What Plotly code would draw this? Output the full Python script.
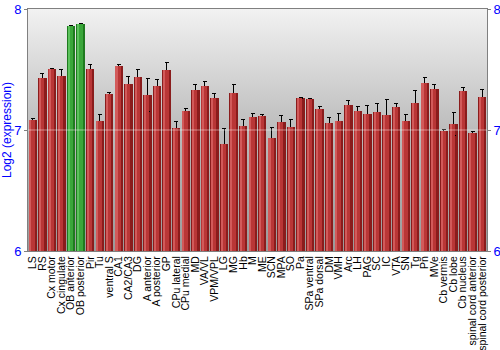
import base64
import plotly.graph_objects as go

categories = ["LS", "RS", "Cx motor", "Cx cingulate", "OB anterior", "OB posterior", "Pir", "Tu",
              "ventral S", "CA1", "CA2/CA3", "DG", "A anterior", "A posterior", "GP", "CPu lateral",
              "CPu medial", "MD", "VA/VL", "VPM/VPL", "LG", "MG", "Hb", "M", "ME", "SCN", "MPA", "SO",
              "Pa", "SPa ventral", "SPa dorsal", "DM", "VMH", "Arc", "LH", "PAG", "SC", "IC", "VTA",
              "SN", "Tg", "Pn", "MVe", "Cb vermis", "Cb lobe", "Cb nucleus",
              "spinal cord anterior", "spinal cord posterior"]
values = [7.083, 7.43, 7.507, 7.449, 7.862, 7.873, 7.505, 7.077,
          7.297, 7.529, 7.38, 7.438, 7.289, 7.366, 7.496, 7.017,
          7.157, 7.328, 7.366, 7.262, 6.884, 7.303, 7.033, 7.107, 7.116, 6.934, 7.069, 7.025,
          7.264, 7.254, 7.174, 7.055, 7.074, 7.209, 7.154, 7.132, 7.151, 7.124, 7.19,
          7.072, 7.223, 7.388, 7.336, 6.994, 7.052, 7.325,
          6.973, 7.275]
errors = [0.01, 0.04, 0.004, 0.054, 0.003, 0.005, 0.039, 0.05,
          0.014, 0.014, 0.06, 0.06, 0.14, 0.055, 0.058, 0.054,
          0.02, 0.044, 0.032, 0.039, 0.13, 0.074, 0.05, 0.026, 0.014, 0.09, 0.05, 0.06,
          0.004, 0.007, 0.02, 0.047, 0.066, 0.032, 0.041, 0.069, 0.066, 0.13, 0.032,
          0.055, 0.1, 0.048, 0.043, 0.007, 0.096, 0.028,
          0.017, 0.057]
highlighted = ["OB anterior", "OB posterior"]
y_ticks = [6, 7, 8]

is_hi = [c in highlighted for c in categories]
dark = ["#1f7a1f" if h else "#8a1c1c" for h in is_hi]
mid = ["#3aa63a" if h else "#b93636" for h in is_hi]
light = ["#5cc25c" if h else "#d25a5a" for h in is_hi]

fig = go.Figure()
fig.add_trace(go.Bar(x=categories, y=values, marker=dict(color=dark, line=dict(width=0)),
                     width=0.88, offset=-0.44,
                     error_y=dict(type="data", array=errors, color="black", thickness=1, width=2),
                     hoverinfo="skip"))
fig.add_trace(go.Bar(x=categories, y=values, marker=dict(color=mid, line=dict(width=0)),
                     width=0.56, offset=-0.36, hoverinfo="skip"))
fig.add_trace(go.Bar(x=categories, y=values, marker=dict(color=light, line=dict(width=0)),
                     width=0.16, offset=-0.3, hoverinfo="skip"))
# invisible trace for right axis
fig.add_trace(go.Scatter(x=[categories[0]], y=[None], yaxis="y2", showlegend=False, hoverinfo="skip"))

svg = ('<svg xmlns="http://www.w3.org/2000/svg" width="10" height="100" preserveAspectRatio="none">'
       '<defs><linearGradient id="g" x1="0" y1="0" x2="0" y2="1">'
       '<stop offset="0" stop-color="#f2f2f2"/><stop offset="0.5" stop-color="#bcbcbc"/>'
       '<stop offset="1" stop-color="#9a9a9a"/></linearGradient></defs>'
       '<rect width="10" height="100" fill="url(#g)"/></svg>')
uri = "data:image/svg+xml;base64," + base64.b64encode(svg.encode()).decode()

axis_font = dict(family="Liberation Sans, Arial", size=13, color="#0000ff")
fig.update_layout(
    width=500, height=350,
    margin=dict(l=28, r=13, t=9, b=99),
    barmode="overlay", bargap=0,
    showlegend=False,
    paper_bgcolor="white", plot_bgcolor="rgba(0,0,0,0)",
    images=[dict(source=uri, xref="paper", yref="paper", x=0, y=1, sizex=1, sizey=1,
                 sizing="stretch", layer="below", xanchor="left", yanchor="top")],
    xaxis=dict(tickangle=-90, tickfont=dict(family="Liberation Sans, Arial", size=10.5, color="black"),
               tickmode="array", tickvals=categories, ticktext=categories, automargin=False,
               showgrid=False, ticks="", showline=True, linecolor="#808080", mirror=True,
               range=[-0.5, len(categories) - 0.5]),
    yaxis=dict(range=[6, 8], tickvals=y_ticks, tickfont=axis_font, showgrid=False, zeroline=False,
               automargin=False,
               ticks="outside", ticklen=3, tickcolor="#808080", showline=True, linecolor="#808080",
               title=dict(text="Log2 (expression)", font=dict(family="Liberation Sans, Arial", size=12, color="#0000ff"),
                          standoff=0)),
    yaxis2=dict(range=[6, 8], tickvals=y_ticks, tickfont=axis_font, overlaying="y", side="right",
                automargin=False, ticklabelstandoff=0,
                showgrid=False, zeroline=False, ticks="outside", ticklen=3, tickcolor="#808080",
                showline=True, linecolor="#808080"),
    shapes=[dict(type="line", xref="paper", yref="y", x0=0, x1=1, y0=7, y1=7,
                 line=dict(color="rgba(255,255,255,0.45)", width=1), layer="above")],
)
fig.write_html("out.html")
